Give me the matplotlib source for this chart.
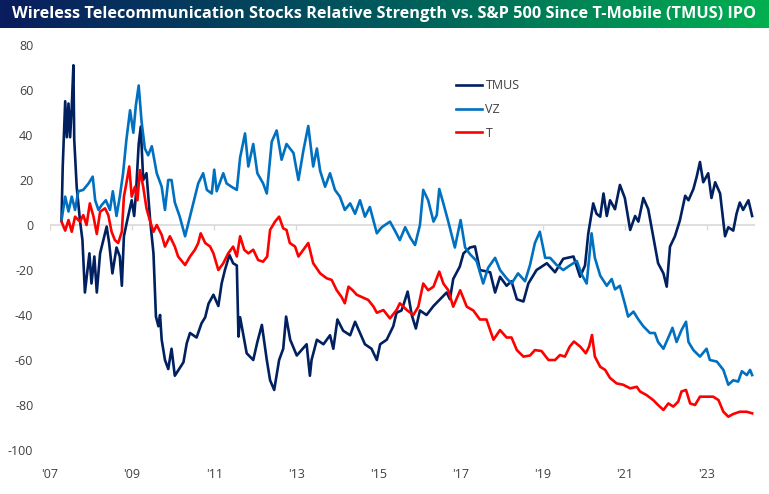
import numpy as np
import matplotlib
matplotlib.use("Agg")
import matplotlib.pyplot as plt
from matplotlib.colors import LinearSegmentedColormap

plt.rcParams["font.family"] = ["Open Sans", "DejaVu Sans"]

title = "Wireless Telecommunication Stocks Relative Strength vs. S&P 500 Since T-Mobile (TMUS) IPO"
series_names = ["TMUS", "VZ", "T"]
series_colors = ["#002060", "#0070C0", "#FF0000"]
tick_years = [2007, 2009, 2011, 2013, 2015, 2017, 2019, 2021, 2023]
tick_labels = ["'07", "'09", "'11", "'13", "'15", "'17", "'19", "'21", "'23"]
y_ticks = [80, 60, 40, 20, 0, -20, -40, -60, -80, -100]

# relative strength, % (decimal year, value)
tmus_year = [2007.28, 2007.31, 2007.37, 2007.41, 2007.45, 2007.49, 2007.53, 2007.57, 2007.59, 2007.65,
             2007.73, 2007.79, 2007.85, 2007.96, 2008.01, 2008.08, 2008.14, 2008.22, 2008.30, 2008.38,
             2008.44, 2008.52, 2008.62, 2008.70, 2008.75, 2008.80, 2008.88, 2008.99, 2009.05, 2009.09,
             2009.16, 2009.21, 2009.27, 2009.35, 2009.44, 2009.52, 2009.58, 2009.64, 2009.68, 2009.72,
             2009.80, 2009.88, 2009.96, 2010.04, 2010.25, 2010.33, 2010.41, 2010.57, 2010.69, 2010.78,
             2010.86, 2010.98, 2011.10, 2011.18, 2011.26, 2011.37, 2011.46, 2011.55, 2011.59, 2011.63,
             2011.79, 2011.95, 2012.05, 2012.16, 2012.28, 2012.36, 2012.46, 2012.58, 2012.68, 2012.75,
             2012.85, 2013.01, 2013.25, 2013.33, 2013.37, 2013.50, 2013.66, 2013.82, 2013.90, 2014.00,
             2014.14, 2014.31, 2014.43, 2014.55, 2014.67, 2014.83, 2014.96, 2015.04, 2015.20, 2015.36,
             2015.44, 2015.56, 2015.60, 2015.71, 2015.81, 2015.91, 2016.01, 2016.17, 2016.34, 2016.50,
             2016.66, 2016.74, 2016.82, 2016.98, 2017.07, 2017.23, 2017.35, 2017.47, 2017.72, 2017.84,
             2017.96, 2018.12, 2018.24, 2018.37, 2018.53, 2018.65, 2018.85, 2019.10, 2019.30, 2019.50,
             2019.75, 2019.91, 2020.03, 2020.11, 2020.23, 2020.31, 2020.40, 2020.48, 2020.56, 2020.64,
             2020.76, 2020.88, 2021.00, 2021.13, 2021.25, 2021.33, 2021.45, 2021.57, 2021.69, 2021.81,
             2021.94, 2022.02, 2022.10, 2022.22, 2022.34, 2022.47, 2022.55, 2022.67, 2022.75, 2022.83,
             2022.91, 2023.03, 2023.11, 2023.20, 2023.32, 2023.44, 2023.52, 2023.64, 2023.72, 2023.80,
             2023.88, 2024.01, 2024.10]
tmus_val = [2, 26, 55, 39, 54, 39, 52.6, 71, 38, 17,
            2, -6.7, -30, -12.6, -26, -14, -30, -12.6, -6.7, -0.7,
            -8, -21.5, -10, -14, -27, -5, 2, 11, 4, 13,
            36, 43.7, 20, 23, 2, -12.6, -40.7, -45, -40, -51,
            -60, -64, -55, -67, -61, -52.6, -48, -50, -43.7, -41,
            -35, -31, -36, -26, -20, -13.3, -17, -18, -49.6, -41,
            -57, -60, -52, -44.4, -60, -69, -73.3, -60, -55, -40.7,
            -51, -58, -53, -67, -60, -51, -53, -49, -55, -42,
            -47, -49, -43, -48, -53, -55, -60, -53, -51, -45,
            -39, -38, -36, -29.6, -40, -46, -38, -40, -36, -33,
            -30, -33, -24, -18.5, -12.6, -10, -9.5, -20, -21, -30,
            -23, -27, -25, -33, -34, -26, -20, -17, -21, -15,
            -14, -23, -18, -3.7, 9.6, 5, 3.7, 14, 4, 11,
            7, 17.8, 12, -2.2, 4, 1.5, 12, 7, -5, -17,
            -21.5, -27.4, -9.6, -5, 2, 13, 11, 16, 21.5, 28,
            19, 23, 12, 19, 14, -5, -1, -2.5, 5, 10,
            6.7, 11, 4]

vz_year = [2007.28, 2007.37, 2007.45, 2007.53, 2007.61, 2007.69, 2007.81, 2007.94, 2008.04, 2008.10,
           2008.18, 2008.26, 2008.36, 2008.46, 2008.53, 2008.62, 2008.70, 2008.78, 2008.86, 2008.95,
           2009.03, 2009.09, 2009.16, 2009.23, 2009.31, 2009.39, 2009.48, 2009.60, 2009.72, 2009.80,
           2009.88, 2009.96, 2010.04, 2010.16, 2010.29, 2010.41, 2010.53, 2010.61, 2010.73, 2010.82,
           2010.94, 2011.00, 2011.06, 2011.22, 2011.30, 2011.42, 2011.55, 2011.63, 2011.75, 2011.83,
           2011.95, 2012.05, 2012.19, 2012.28, 2012.40, 2012.52, 2012.64, 2012.76, 2012.93, 2013.05,
           2013.17, 2013.29, 2013.41, 2013.50, 2013.58, 2013.70, 2013.82, 2013.94, 2014.06, 2014.18,
           2014.31, 2014.43, 2014.55, 2014.67, 2014.79, 2014.96, 2015.08, 2015.28, 2015.40, 2015.52,
           2015.65, 2015.77, 2015.89, 2016.01, 2016.09, 2016.21, 2016.34, 2016.42, 2016.48, 2016.58,
           2016.70, 2016.86, 2017.00, 2017.11, 2017.23, 2017.39, 2017.55, 2017.67, 2017.84, 2017.96,
           2018.12, 2018.24, 2018.40, 2018.57, 2018.69, 2018.81, 2018.93, 2019.06, 2019.18, 2019.34,
           2019.50, 2019.66, 2019.83, 2019.95, 2020.07, 2020.19, 2020.27, 2020.40, 2020.56, 2020.68,
           2020.76, 2020.88, 2021.00, 2021.08, 2021.21, 2021.33, 2021.45, 2021.61, 2021.73, 2021.81,
           2021.94, 2022.06, 2022.16, 2022.26, 2022.38, 2022.49, 2022.55, 2022.67, 2022.83, 2022.99,
           2023.07, 2023.24, 2023.40, 2023.52, 2023.64, 2023.76, 2023.85, 2023.97, 2024.05, 2024.10]
vz_val = [2, 12.6, 6, 12.6, 6.7, 15, 15.6, 18.5, 21.5, 11,
          6.7, 8.9, 11, 6.7, 15, 4, 12.6, 23, 37.8, 51,
          41, 53, 62, 46, 34, 31, 35, 23, 17, 6.7,
          20, 20, 10, 3.7, -5, 3.7, 12.6, 18.5, 23, 15.6,
          14, 24.6, 15, 23, 18.5, 17, 15.6, 30, 40.7, 26,
          36, 23, 18.5, 14, 37, 42, 29, 36, 32, 20,
          33, 44, 26, 34, 24, 17, 23, 15.6, 12.6, 6.7,
          9.6, 5, 11, 3.7, 8, -3.7, -1, 1.5, -2.5, -6.7,
          -1, -5.5, -8.9, 0, 15.6, 11, 1.5, 4.4, 16, 9.6,
          1.5, -10, 2.2, -10, -13, -16, -26, -19, -14.6, -20,
          -23.7, -26, -21.5, -25, -17.8, -8, -3, -14.6, -14.6, -17.8,
          -20, -18, -16, -22, -26, -3.7, -14.6, -22.5, -27, -24,
          -28.6, -27, -35, -40.7, -38.5, -42, -45, -48, -48, -52,
          -55, -50, -45.7, -52, -46.7, -43, -52, -55.6, -58.5, -55,
          -60, -60.7, -64.4, -71, -69, -69.6, -65, -66.7, -64.4, -66.7]

t_year = [2007.28, 2007.37, 2007.45, 2007.53, 2007.61, 2007.73, 2007.81, 2007.89, 2007.97, 2008.06,
          2008.14, 2008.22, 2008.34, 2008.42, 2008.50, 2008.58, 2008.66, 2008.75, 2008.80, 2008.86,
          2008.93, 2008.99, 2009.07, 2009.13, 2009.19, 2009.27, 2009.35, 2009.44, 2009.52, 2009.60,
          2009.72, 2009.80, 2009.92, 2010.04, 2010.12, 2010.29, 2010.41, 2010.53, 2010.61, 2010.67,
          2010.78, 2010.90, 2010.98, 2011.10, 2011.22, 2011.34, 2011.46, 2011.55, 2011.63, 2011.73,
          2011.83, 2011.95, 2012.07, 2012.19, 2012.29, 2012.36, 2012.48, 2012.58, 2012.68, 2012.76,
          2012.84, 2012.97, 2013.05, 2013.17, 2013.29, 2013.41, 2013.58, 2013.74, 2013.86, 2013.98,
          2014.10, 2014.18, 2014.27, 2014.37, 2014.47, 2014.59, 2014.75, 2014.88, 2014.96, 2015.12,
          2015.28, 2015.44, 2015.52, 2015.69, 2015.85, 2015.97, 2016.09, 2016.21, 2016.34, 2016.48,
          2016.58, 2016.70, 2016.82, 2016.99, 2017.15, 2017.31, 2017.47, 2017.63, 2017.80, 2017.96,
          2018.12, 2018.24, 2018.37, 2018.53, 2018.69, 2018.81, 2018.97, 2019.14, 2019.30, 2019.42,
          2019.54, 2019.66, 2019.76, 2019.91, 2020.05, 2020.13, 2020.20, 2020.27, 2020.40, 2020.52,
          2020.64, 2020.80, 2020.96, 2021.13, 2021.29, 2021.37, 2021.53, 2021.69, 2021.81, 2021.94,
          2022.06, 2022.18, 2022.30, 2022.38, 2022.49, 2022.59, 2022.71, 2022.83, 2022.99, 2023.15,
          2023.28, 2023.40, 2023.52, 2023.64, 2023.80, 2023.97, 2024.10]
t_val = [1.5, -2.5, 2.2, -3, 3.7, 1.5, 4.4, 0, 9.6, 3.7,
         -4, 5.9, 7.4, 4.4, -3, -6.7, -8, -3, 12.6, 18.5,
         26, 12.6, 17, 11, 24.4, 17, 7.4, 1.5, -3, 0,
         -4.4, -9.6, -5, -9.6, -14, -17.8, -14, -11, -8, -3.7,
         -8, -9.6, -12.6, -20, -17, -12.6, -9.6, -14, -5, -11,
         -12.6, -11, -15.6, -16.3, -14, -2.2, 1.5, 3.7, -1.5, -2.2,
         -8, -9.6, -14, -11, -8, -17, -21.5, -23.7, -24.4, -28.9,
         -32, -34.8, -27.4, -29, -31, -32, -33.3, -36.3, -39, -37.8,
         -41.5, -37.8, -34.8, -37.8, -40, -36.3, -26, -29, -27.4, -20.7,
         -26, -29, -36.3, -29, -36.3, -38, -42, -42, -51, -46.7,
         -50, -50, -55.6, -58.5, -58, -55.6, -56, -60, -60, -57.8,
         -58.5, -54, -51.8, -54, -57, -54, -48.9, -58.5, -63, -64.4,
         -68, -70.4, -71, -72.6, -71.9, -74, -75.6, -77.8, -80, -82.2,
         -79.3, -80.7, -78.5, -74, -73.3, -79.3, -80, -76.3, -76.3, -76.3,
         -77.8, -83, -85.2, -84, -83, -83, -83.7]

W, H = 769, 494
fig = plt.figure(figsize=(W / 100, H / 100), dpi=100)

# title banner with a navy -> green gradient
bar_h = 28 / H
bar = fig.add_axes([0, 1 - bar_h, 1, bar_h])
cmap = LinearSegmentedColormap.from_list("bar", ["#0a1d5e", "#005a5c", "#00b050"])
bar.imshow(np.linspace(0, 1, 256)[None, :], aspect="auto", cmap=cmap, extent=[0, 1, 0, 1])
bar.set_axis_off()
ttl = bar.text(0.5, 0.5, title, color="white", fontweight="bold", fontsize=13,
               ha="center", va="center", transform=bar.transAxes,
               family=["Liberation Sans Narrow", "Open Sans", "DejaVu Sans"])
fig.canvas.draw()
tw = ttl.get_window_extent().width
ttl.set_fontsize(13 * 738 / tw)

ax = fig.add_axes([50 / W, 44 / H, 705 / W, 405 / H])
ax.axhline(0, color="#d9d9d9", lw=1.2, zorder=1)
ax.vlines(tick_years, -2.0, 0, color="#d9d9d9", lw=1.0, zorder=1)

ax.plot(tmus_year, tmus_val, color=series_colors[0], lw=1.9, label=series_names[0], zorder=3)
ax.plot(vz_year, vz_val, color=series_colors[1], lw=1.9, label=series_names[1], zorder=3)
ax.plot(t_year, t_val, color=series_colors[2], lw=1.9, label=series_names[2], zorder=4)

ax.set_xlim(2007, 2024.17)
ax.set_ylim(-100, 80)
ax.set_yticks(y_ticks, [str(v) for v in y_ticks])
ax.set_xticks(tick_years, tick_labels)
ax.tick_params(axis="both", length=0, labelsize=9, labelcolor="#404040")
ax.tick_params(axis="y", pad=12)
ax.tick_params(axis="x", pad=13)
for s in ax.spines.values():
    s.set_visible(False)

ax.legend(loc="upper left", bbox_to_anchor=(0.576, 0.915), frameon=False, fontsize=9,
          labelcolor="#404040", handlelength=2.1, handletextpad=0.25, labelspacing=0.85,
          borderpad=0, borderaxespad=0)

fig.savefig("out.png", dpi=100)
